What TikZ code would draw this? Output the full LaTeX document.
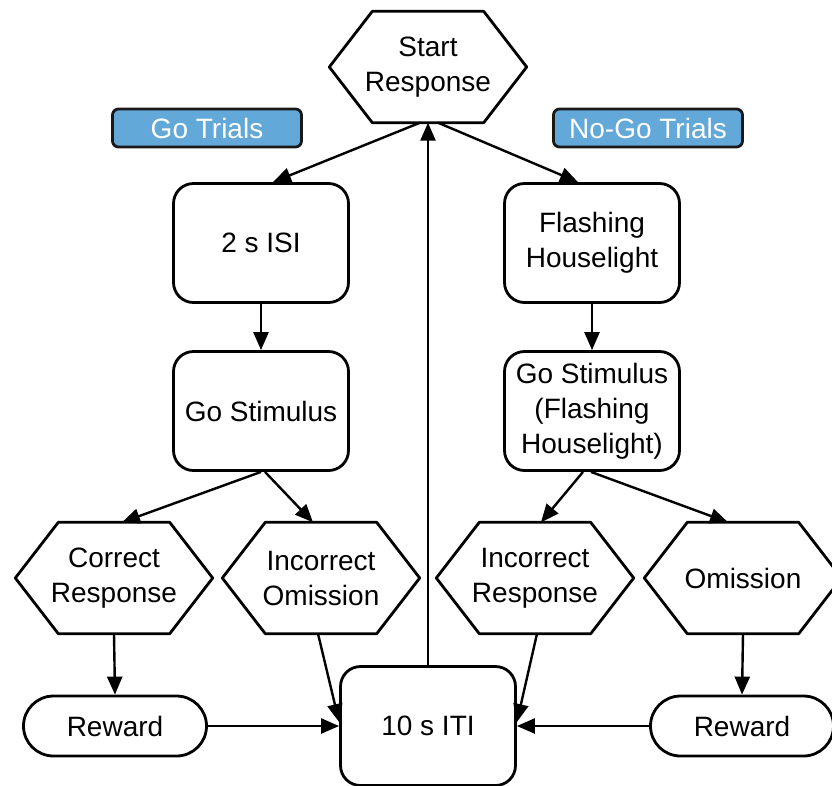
\documentclass[tikz,border=0pt]{standalone}
\usepackage{fontspec}
\setmainfont{Liberation Sans}
\usetikzlibrary{arrows.meta}
\definecolor{trialblue}{RGB}{98,168,216}
\begin{document}
\begin{tikzpicture}[x=1pt,y=-1pt,>={Triangle[length=18pt,width=15pt]},line join=round,font=\fontsize{28}{35}\selectfont,
box/.style={draw,line width=2.8pt,rounded corners=20pt,fill=white,align=center,minimum width=175pt,minimum height=119pt,inner sep=0pt},
hexbox/.style={align=center,minimum width=197pt,minimum height=111pt,inner sep=0pt},
pill/.style={draw,line width=2.8pt,rounded corners=30pt,fill=white,minimum width=183pt,minimum height=60pt,inner sep=0pt},
tag/.style={draw=black!90,line width=2.8pt,rounded corners=6pt,fill=trialblue,text=white,minimum width=189pt,minimum height=38pt,inner sep=0pt},
arr/.style={->,line width=2.4pt}]
\useasboundingbox (0,0) rectangle (832,785);
\clip (0,0) rectangle (832,785);
\node[hexbox] (start) at (428,67) {Start\\Response};
\node[tag] (go) at (207,128) {Go Trials};
\node[tag] (nogo) at (648,128) {No-Go Trials};
\node[box] (isi) at (261,243) {2 s ISI};
\node[box] (flash) at (592,243) {Flashing\\Houselight};
\node[box] (gostim) at (261,411) {Go Stimulus};
\node[box] (gostimf) at (592,411) {Go Stimulus\\(Flashing\\Houselight)};
\node[hexbox] (corr) at (114,578) {Correct\\Response};
\node[hexbox] (incom) at (321,578) {Incorrect\\Omission};
\node[hexbox] (incres) at (535,578) {Incorrect\\Response};
\node[hexbox] (omis) at (743,578) {Omission};
\node[pill] (rewgo) at (115,726) {Reward};
\node[box] (iti) at (428,726) {10 s ITI};
\node[pill] (rewnogo) at (742,726) {Reward};
% hexagon outlines
\foreach \n in {start,corr,incom,incres,omis}
  \draw[line width=2.8pt] ([xshift=43pt]\n.north west)--([xshift=-43pt]\n.north east)--(\n.east)--([xshift=-43pt]\n.south east)--([xshift=43pt]\n.south west)--(\n.west)--cycle;
\draw[arr] ([xshift=-8pt]start.south)--([xshift=12pt]isi.north);
\draw[arr] ([xshift=10pt]start.south)--([xshift=-14pt]flash.north);
\draw[arr] (iti.north)--(start.south);
\draw[arr] (isi.south)--(gostim.north);
\draw[arr] (flash.south)--(gostimf.north);
\draw[arr] (gostim.south)--([xshift=8pt]corr.north);
\draw[arr] ([xshift=4pt]gostim.south)--([xshift=-8pt]incom.north);
\draw[arr] ([xshift=-9pt]gostimf.south)--([xshift=6pt]incres.north);
\draw[arr] ([xshift=-1pt]gostimf.south)--([xshift=-15pt]omis.north);
\draw[arr] (corr.south)--(rewgo.north);
\draw[arr] (omis.south)--(rewnogo.north);
\draw[arr] ([xshift=-3pt]incom.south)--([yshift=4pt]iti.west);
\draw[arr] ([xshift=2pt]incres.south)--([yshift=4pt]iti.east);
\draw[arr] (rewgo)--(iti);
\draw[arr] (rewnogo)--(iti);
\end{tikzpicture}
\end{document}
